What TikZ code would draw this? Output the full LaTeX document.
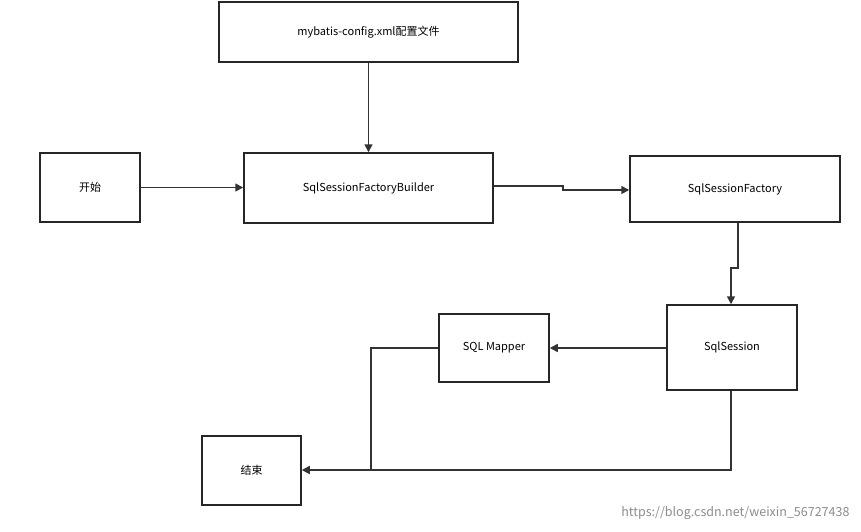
\documentclass[tikz,border=0pt]{standalone}
\usepackage{fontspec}
\setmainfont{Noto Sans CJK SC}
\usetikzlibrary{arrows.meta}
\begin{document}
\begin{tikzpicture}[x=1pt,y=-1pt,
  box/.style={draw=black!85,line width=1.5pt,inner sep=0pt,font=\fontsize{11}{13}\selectfont},
  arr/.style={draw=black!80,line width=1.6pt,-{Triangle[length=8pt,width=8pt]}},
  ln/.style={draw=black!80,line width=1.6pt}]
\useasboundingbox (0,0) rectangle (861,531);
\node[box,minimum width=299pt,minimum height=60pt] (cfg) at (368.5,32) {mybatis-config.xml配置文件};
\node[box,minimum width=100pt,minimum height=69pt] (start) at (90,187.5) {开始};
\node[box,minimum width=249pt,minimum height=70pt] (bld) at (368.5,188) {SqlSessionFactoryBuilder};
\node[box,minimum width=210pt,minimum height=66pt] (fac) at (735,189) {SqlSessionFactory};
\node[box,minimum width=130pt,minimum height=85pt] (ss) at (732,347.5) {SqlSession};
\node[box,minimum width=110pt,minimum height=68pt] (map) at (494,348) {SQL Mapper};
\node[box,minimum width=99pt,minimum height=69pt] (end) at (251.5,470.5) {结束};
\draw[arr] (cfg.south) -- (bld.north);
\draw[arr] (start.east) -- (start.east -| bld.west);
\coordinate (b1) at (563,186);
\coordinate (b2) at (563,190);
\draw[arr] (bld.east |- b1) -- (b1) -- (b2) -- (b2 -| fac.west);
\coordinate (f1) at (738,268);
\coordinate (f2) at (731,268);
\draw[arr] (fac.south -| f1) -- (f1) -- (f2) -- (f2 |- ss.north);
\draw[arr] (ss.west |- map.east) -- (map.east);
\coordinate (s1) at (731,470);
\draw[arr] (ss.south -| s1) -- (s1) -- (end.east |- s1);
\coordinate (m1) at (371,348);
\coordinate (m2) at (371,470);
\draw[ln] (map.west) -- (m1) -- (m2);
\node[text=black!45,font=\fontsize{12.5}{14}\selectfont,anchor=east] (wm) at (853,513) {https://blog.csdn.net/weixin\_56727438};
\end{tikzpicture}
\end{document}
